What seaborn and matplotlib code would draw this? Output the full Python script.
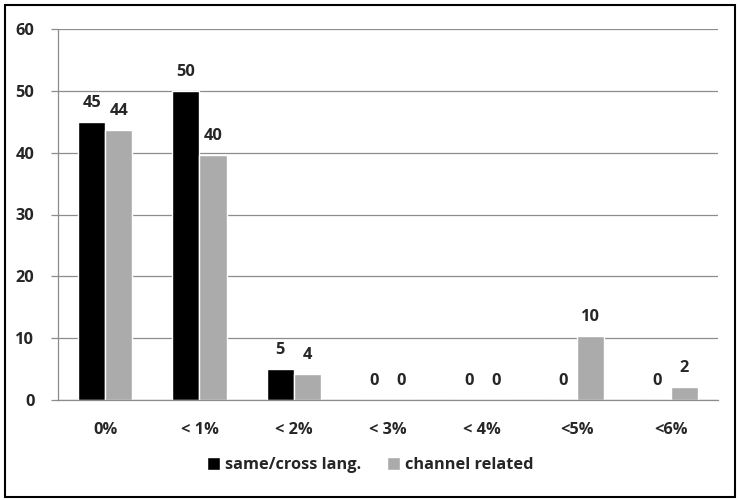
import matplotlib
matplotlib.use("Agg")
import matplotlib.pyplot as plt
from matplotlib.patches import Rectangle
import seaborn as sns
import pandas as pd

categories = ["0%", "< 1%", "< 2%", "< 3%", "< 4%", "<5%", "<6%"]
same_cross = [45, 50, 5, 0, 0, 0, 0]
channel_related = [43.6, 39.6, 4.2, 0, 0, 10.4, 2.1]
series_names = ["same/cross lang.", "channel related"]
y_ticks = [0, 10, 20, 30, 40, 50, 60]

df = pd.DataFrame({
    "category": categories * 2,
    "value": same_cross + channel_related,
    "series": [series_names[0]] * len(categories) + [series_names[1]] * len(categories),
})

sns.set_style("white")
plt.rcParams["font.family"] = ["Open Sans", "DejaVu Sans"]
plt.rcParams["font.weight"] = "bold"

FS = 11.8

fig = plt.figure(figsize=(7.4, 5.0), dpi=100)
ax = fig.add_axes([0.0784, 0.2, 0.892, 0.742])

sns.barplot(data=df, x="category", y="value", hue="series", order=categories,
            hue_order=series_names, palette=["#000000", "#ABABAB"],
            width=0.574, saturation=1, ax=ax, legend=True)

for container in ax.containers:
    ax.bar_label(container, fmt="%.0f", padding=8, fontsize=FS, fontweight="bold")

ax.set_ylim(0, 60)
ax.set_xlim(-0.5, len(categories) - 0.5)
ax.set_yticks(y_ticks)
ax.yaxis.grid(True, color="#8c8c8c", linewidth=0.9)
ax.set_axisbelow(True)
ax.set_xlabel("")
ax.set_ylabel("")

for side in ["top", "right"]:
    ax.spines[side].set_visible(False)
for side in ["left", "bottom"]:
    ax.spines[side].set_color("#8c8c8c")
    ax.spines[side].set_linewidth(0.9)

ax.set_xticks(range(len(categories)))
ax.set_xticklabels(categories)
ax.set_xticks([i - 0.5 for i in range(len(categories) + 1)], minor=True)
ax.tick_params(axis="x", which="major", length=0, pad=16, labelsize=FS)
ax.tick_params(axis="x", which="minor", length=6, color="#8c8c8c", width=0.9, direction="out")
ax.tick_params(axis="y", length=5, color="#8c8c8c", width=0.9, pad=12, labelsize=FS, direction="out", left=True)
for lbl in ax.get_xticklabels() + ax.get_yticklabels():
    lbl.set_fontweight("bold")

handles, labels = ax.get_legend_handles_labels()
ax.get_legend().remove()
fig.legend(handles, labels, loc="center", bbox_to_anchor=(0.5, 0.07), ncol=2,
           frameon=False, handlelength=0.8, handleheight=0.8, handletextpad=0.3,
           columnspacing=1.6, prop={"size": FS, "weight": "bold"})

fig.patches.append(Rectangle((5 / 740, 3 / 500), 730 / 740, 492 / 500,
                             transform=fig.transFigure, fill=False,
                             edgecolor="black", linewidth=1.5))

fig.savefig("out.png", dpi=100)
